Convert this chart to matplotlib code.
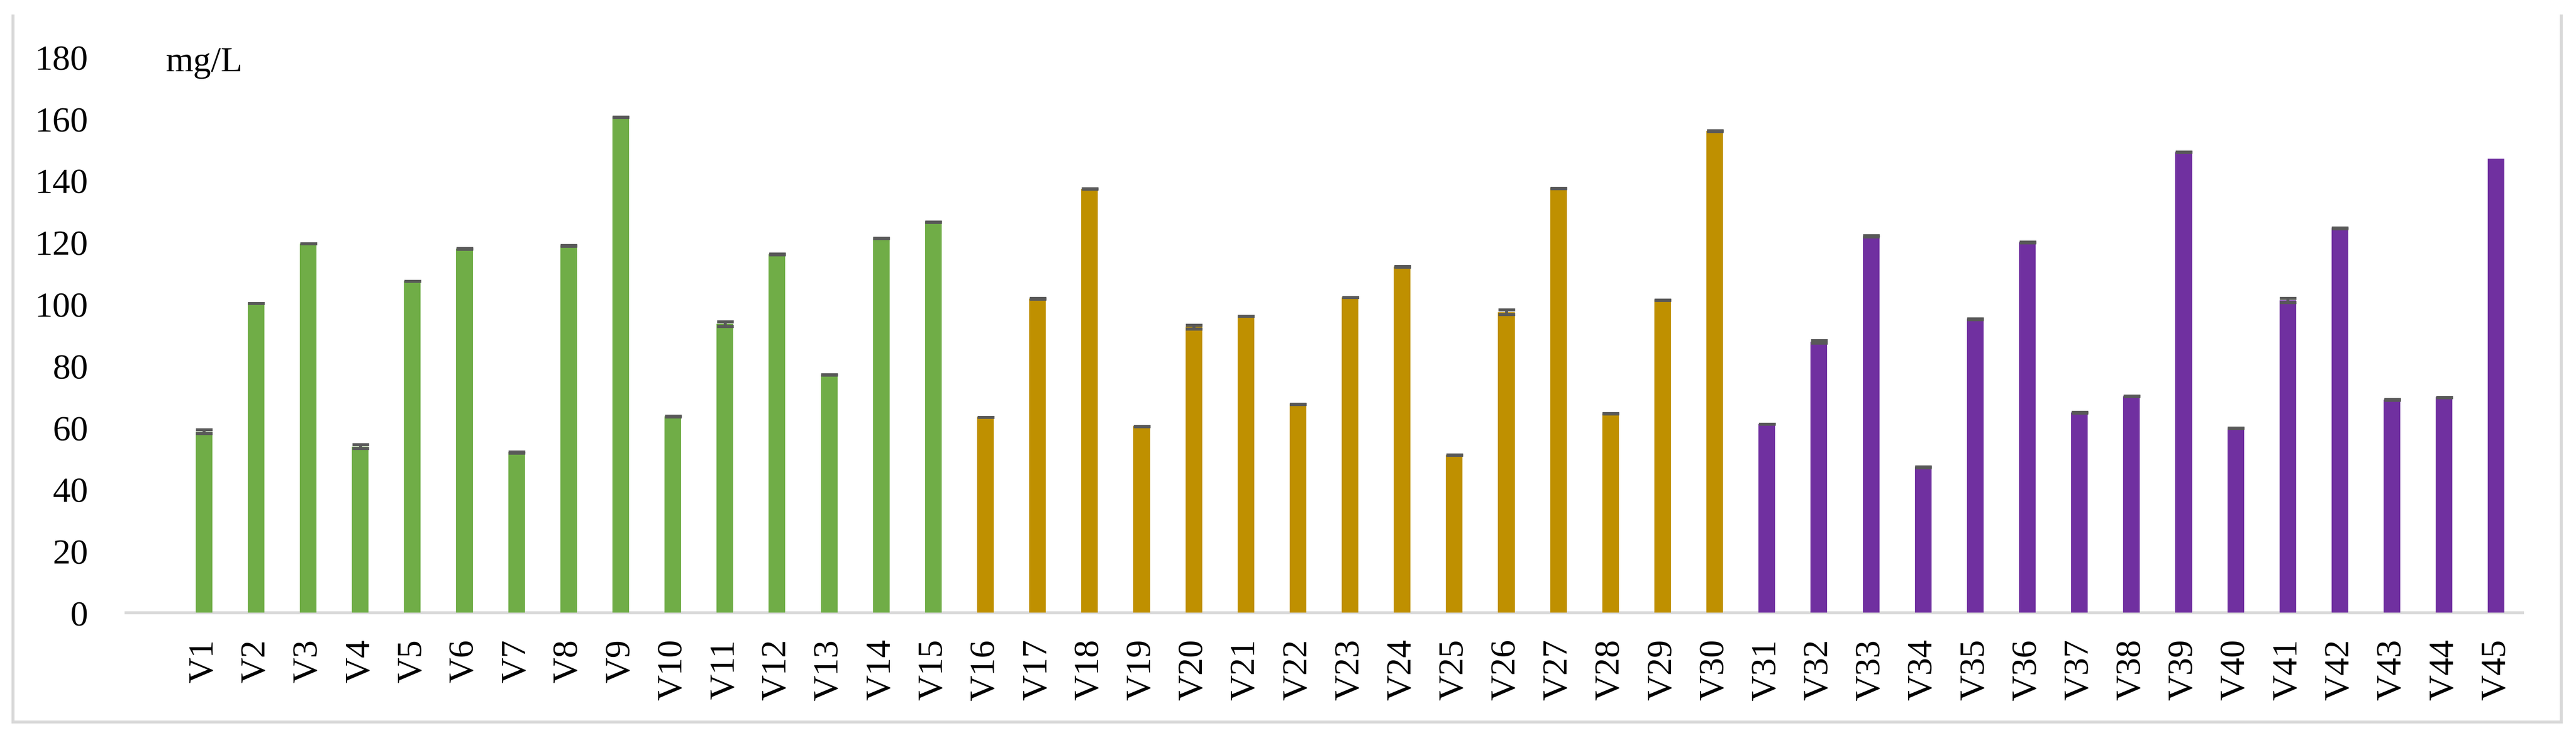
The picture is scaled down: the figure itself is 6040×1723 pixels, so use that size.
import matplotlib
matplotlib.use("Agg")
import matplotlib.pyplot as plt
from matplotlib.lines import Line2D
import numpy as np

categories = ["V1", "V2", "V3", "V4", "V5", "V6", "V7", "V8", "V9", "V10",
              "V11", "V12", "V13", "V14", "V15", "V16", "V17", "V18", "V19", "V20",
              "V21", "V22", "V23", "V24", "V25", "V26", "V27", "V28", "V29", "V30",
              "V31", "V32", "V33", "V34", "V35", "V36", "V37", "V38", "V39", "V40",
              "V41", "V42", "V43", "V44", "V45"]

values = [58.6, 100.1, 119.5, 53.8, 107.4, 117.8, 51.9, 118.8, 160.5, 63.5,
          93.5, 116.1, 77.0, 121.2, 126.5, 63.3, 101.7, 137.2, 60.3, 92.5,
          96.0, 67.5, 102.1, 112.0, 51.0, 97.3, 137.4, 64.4, 101.2, 156.0,
          61.0, 87.7, 121.9, 47.1, 95.0, 119.9, 64.8, 70.1, 149.1, 59.7,
          101.1, 124.5, 68.9, 69.7, 147.0]

errors = [0.6, 0.0, 0.05, 0.6, 0.0, 0.13, 0.2, 0.13, 0.05, 0.13,
          0.74, 0.13, 0.05, 0.05, 0.05, 0.0, 0.13, 0.05, 0.13, 0.66,
          0.05, 0.05, 0.05, 0.13, 0.05, 0.74, 0.05, 0.05, 0.05, 0.13,
          0.0, 0.43, 0.2, 0.2, 0.13, 0.13, 0.13, 0.05, 0.05, 0.05,
          0.66, 0.13, 0.13, 0.13, np.nan]

group_colors = ["#70AD47"] * 15 + ["#BF9000"] * 15 + ["#7030A0"] * 15

unit_label = "mg/L"
y_ticks = [0, 20, 40, 60, 80, 100, 120, 140, 160, 180]

W, H, DPI = 6040, 1724, 200
fig = plt.figure(figsize=(W / DPI, H / DPI), dpi=DPI)
ax = fig.add_axes([295 / W, 1 - 1437 / H, (5914 - 295) / W, (1437 - 134) / H])

font = "Liberation Serif"
fs = 30
px = 72 / DPI  # points per pixel

x = np.arange(len(categories))
ax.bar(x, values, width=0.32, color=group_colors, zorder=2)
ax.errorbar(x, values, yerr=errors, fmt="none", ecolor="#595959",
            elinewidth=7 * px, capsize=19.5 * px, capthick=7 * px, zorder=3)

ax.set_xlim(-1.5, len(categories) - 0.5)
ax.set_ylim(0, 180)
ax.set_yticks(y_ticks)
ax.set_yticklabels([str(t) for t in y_ticks], fontfamily=font, fontsize=fs)
ax.set_xticks(x)
ax.set_xticklabels(categories, rotation=90, fontfamily=font, fontsize=fs)
ax.tick_params(axis="y", length=0, pad=88 * px)
ax.tick_params(axis="x", length=0, pad=62 * px)

for s in ["top", "right", "left"]:
    ax.spines[s].set_visible(False)
ax.spines["bottom"].set_color("#D9D9D9")
ax.spines["bottom"].set_linewidth(7 * px)
ax.spines["bottom"].set_zorder(1)

ax.text(-0.74, 175.5, unit_label, fontfamily=font, fontsize=fs,
        ha="left", va="baseline")

# chart-area border (left, bottom, right)
lw = 7 * px
bx0, bx1 = 30 / W, 6005 / W
by0, by1 = 1 - 1693 / H, 1 - 38 / H
for xs, ys in [([bx0, bx0], [by0, by1]), ([bx0, bx1], [by0, by0]), ([bx1, bx1], [by0, by1])]:
    fig.add_artist(Line2D(xs, ys, transform=fig.transFigure, color="#D9D9D9",
                          linewidth=lw, solid_capstyle="projecting"))

fig.savefig("out.png", dpi=DPI, facecolor="white")
